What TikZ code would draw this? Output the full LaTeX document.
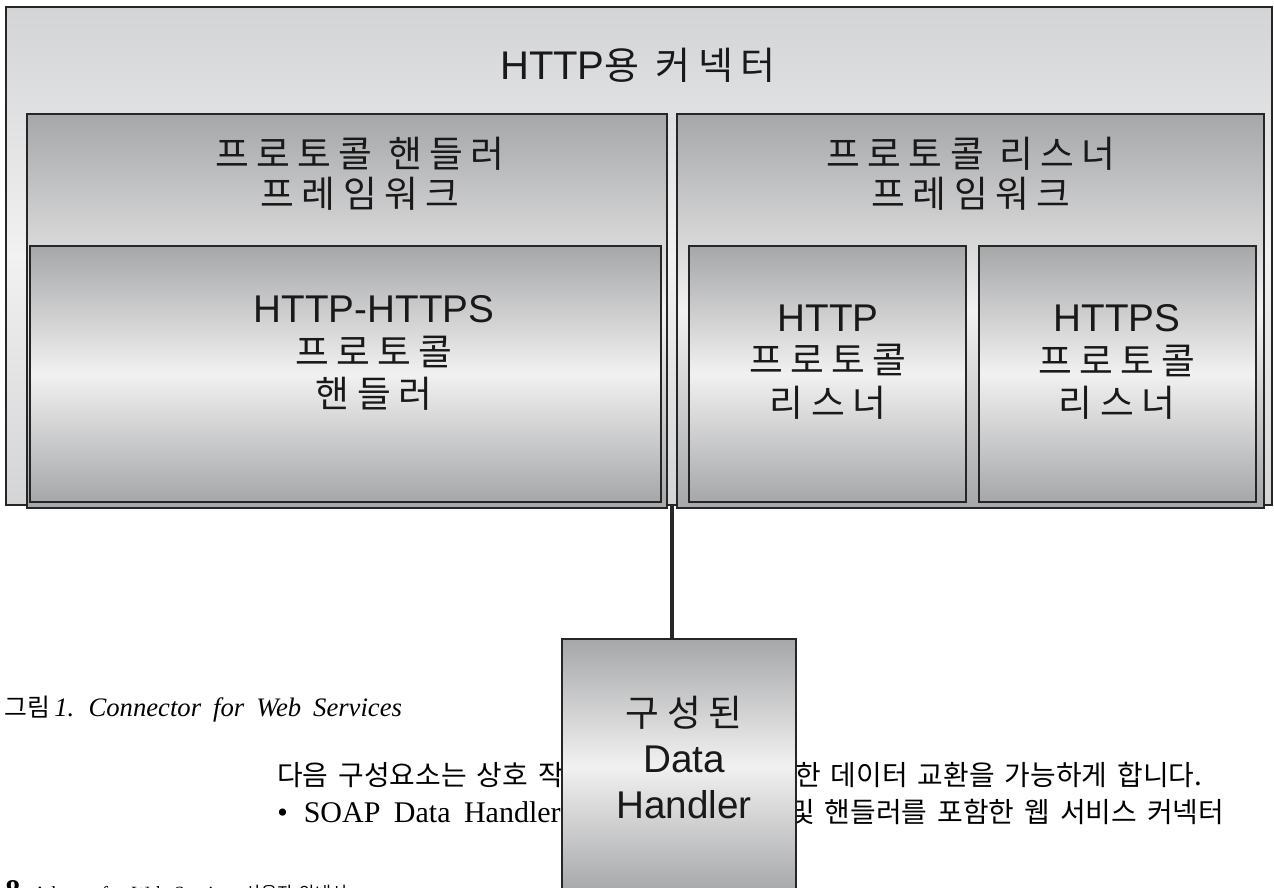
\documentclass[tikz,border=0pt]{standalone}
\usepackage{fontspec}
\usetikzlibrary{fit}
\setmainfont{Liberation Serif}[WordSpace=1.8]
\newfontfamily\lsans{Liberation Sans}
\newfontfamily\krd{Noto Sans CJK KR}[LetterSpace=20,Scale=0.95]
\newfontfamily\krb{Noto Sans CJK KR}[Scale=0.93,WordSpace=1.6]

\definecolor{edge}{HTML}{262626}
\definecolor{gdark}{HTML}{A6A7A9}
\definecolor{glight}{HTML}{F1F1F1}
\definecolor{odark}{HTML}{D3D4D6}

\tikzset{
  panel/.style={draw=edge, line width=1.1pt, inner sep=0pt,
    top color=gdark, bottom color=gdark, middle color=glight},
  shell/.style={draw=edge, line width=1.1pt, inner sep=0pt,
    top color=odark, bottom color=odark, middle color=glight},
  lbl/.style={align=center, inner sep=0pt, text=black!90,
    font=\fontsize{29pt}{32pt}\selectfont\lsans},
  wire/.style={draw=edge, line width=2.4pt},
  body/.style={inner sep=0pt, anchor=base west, font=\fontsize{22.5pt}{26pt}\selectfont},
}

\begin{document}
\begin{tikzpicture}[x=0.75pt, y=-0.75pt]
\useasboundingbox (0,0) rectangle (1274,888);

% running text under the figure (partly covered by the data handler box)
\node[body, font=\fontsize{20pt}{24pt}\selectfont] (cap) at (4,716) {{\krb 그림}\,\textit{1. Connector for Web Services}};
\node[body] (p1a) at (277,785) {{\krb 다음 구성요소는 상호 작}};
\node[body] (p1b) at (795,785) {{\krb 한 데이터 교환을 가능하게 합니다.}};
\node[body] (p2a) at (277,822) {•\hspace{12pt}SOAP Data Handler};
\node[body] (p2b) at (789,822) {{\krb 및 핸들러를 포함한 웹 서비스 커넥터}};
\node[body] (pgno) at (5,900) {\textbf{8}};
\node[body, font=\fontsize{14pt}{16pt}\selectfont] (foot) at (33,899) {Adapter for Web Services {\krb 사용자 안내서}};

% connector shell
\node[shell, fit={(6,7) (1272,505)}] (outer) {};
\node[lbl, font=\fontsize{30pt}{32pt}\selectfont\lsans] (title) at (638,65) {HTTP{\krd 용 커넥터}};

% framework panels
\node[panel, fit={(27,114) (667,508)}] (hfw) {};
\node[panel, fit={(677,114) (1264,508)}] (lfw) {};
\node[lbl, font=\fontsize{29pt}{30pt}\selectfont\lsans] (hfwt) at (360,174) {{\krd 프로토콜 핸들러}\\{\krd 프레임워크}};
\node[lbl, font=\fontsize{29pt}{30pt}\selectfont\lsans] (lfwt) at (971,174) {{\krd 프로토콜 리스너}\\{\krd 프레임워크}};

% handler and listeners
\node[panel, fit={(30,246) (661,502)}] (hh) {};
\node[panel, fit={(689,246) (966,502)}] (lh) {};
\node[panel, fit={(979,246) (1256,502)}] (ls) {};
\node[lbl] (hht) at (374,353) {HTTP-HTTPS\\{\krd 프로토콜}\\{\krd 핸들러}};
\node[lbl] (lht) at (828,362) {HTTP\\{\krd 프로토콜}\\{\krd 리스너}};
\node[lbl] (lst) at (1117,362) {HTTPS\\{\krd 프로토콜}\\{\krd 리스너}};

% configured data handler
\node[panel, fit={(562,639) (796,893)}] (dh) {};
\node[lbl, font=\fontsize{29pt}{34.5pt}\selectfont\lsans] (dht) at (684,757) {{\krd 구성된}\\Data\\Handler};

\coordinate (link) at (672,505);
\draw[wire] (link) -- (link |- dh.north);
\end{tikzpicture}
\end{document}
